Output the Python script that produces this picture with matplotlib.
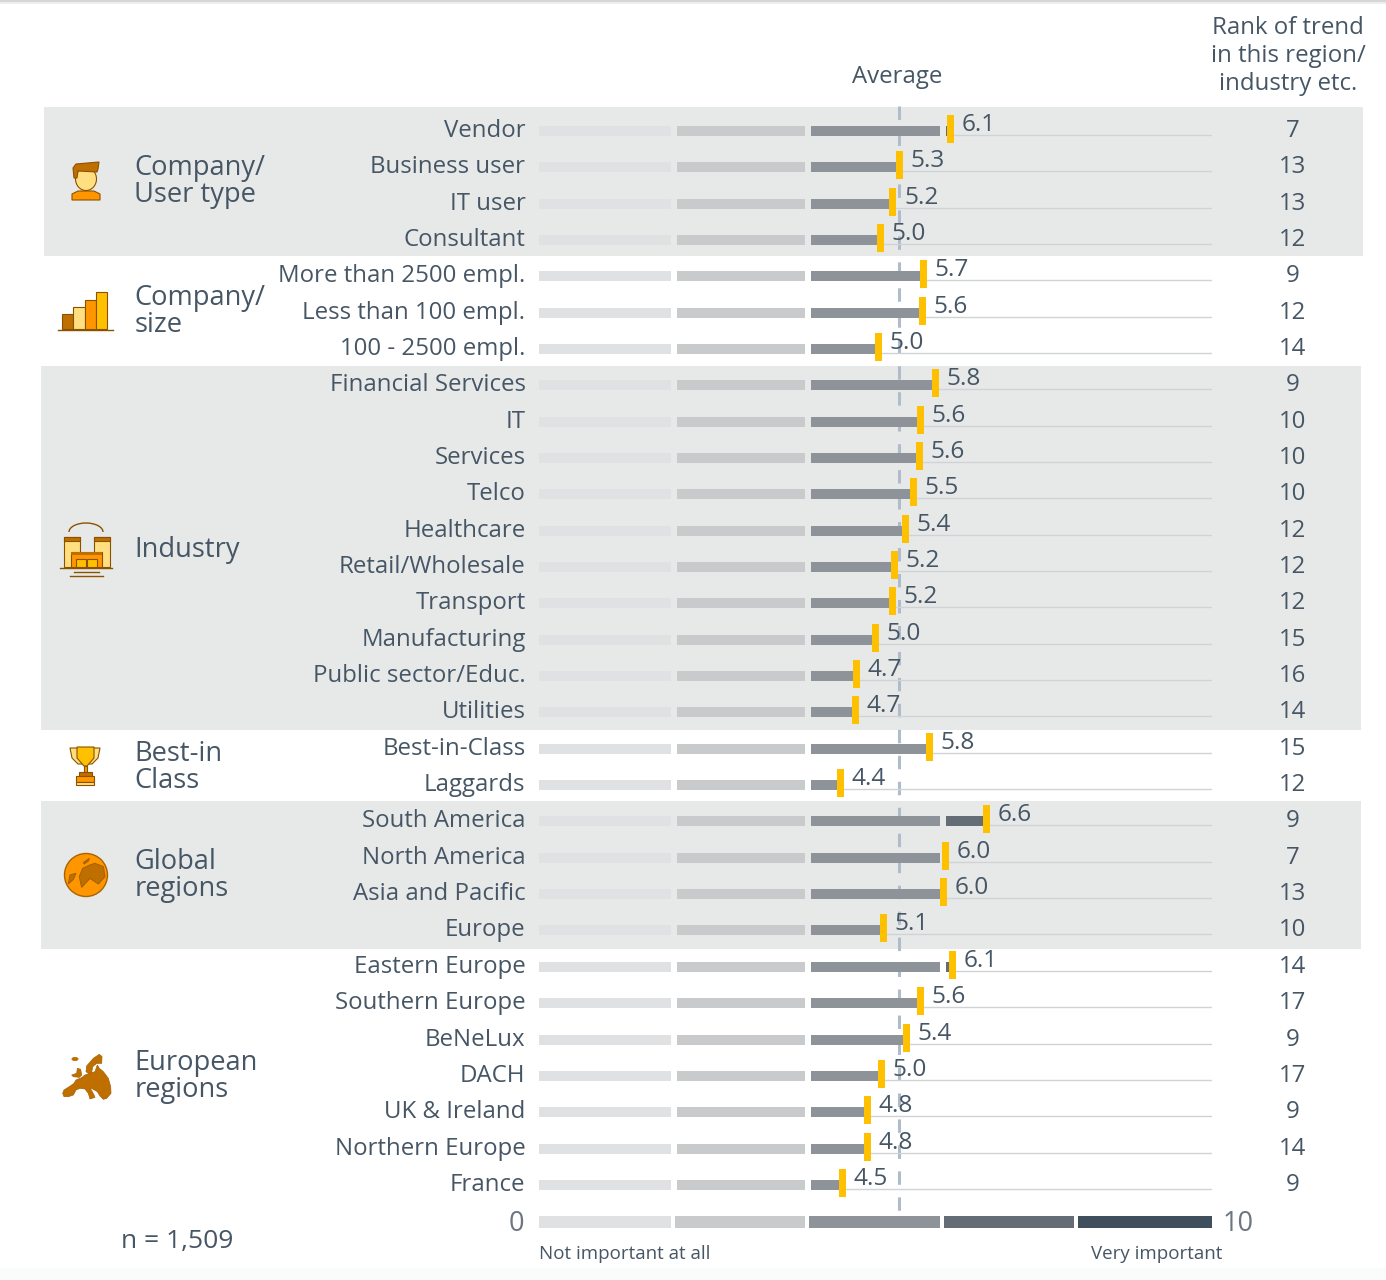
"""Importance of a trend by company type, size, industry and region."""

import matplotlib
matplotlib.use("Agg")
import matplotlib.pyplot as plt
from matplotlib.patches import Ellipse, Polygon, Rectangle, Arc

# Data
row_labels = [
    "Vendor", "Business user", "IT user", "Consultant",
    "More than 2500 empl.", "Less than 100 empl.", "100 - 2500 empl.",
    "Financial Services", "IT", "Services", "Telco", "Healthcare",
    "Retail/Wholesale", "Transport", "Manufacturing", "Public sector/Educ.",
    "Utilities", "Best-in-Class", "Laggards",
    "South America", "North America", "Asia and Pacific", "Europe",
    "Eastern Europe", "Southern Europe", "BeNeLux", "DACH", "UK & Ireland",
    "Northern Europe", "France",
]
# marker positions carry more precision than the printed one-decimal labels
values = [
    6.11, 5.35, 5.26, 5.07, 5.71, 5.70, 5.04,
    5.89, 5.67, 5.65, 5.56, 5.44, 5.28, 5.25, 5.00, 4.72, 4.70,
    5.80, 4.48, 6.65, 6.04, 6.01, 5.12,
    6.14, 5.67, 5.46, 5.09, 4.88, 4.88, 4.51,
]
value_labels = [
    "6.1", "5.3", "5.2", "5.0", "5.7", "5.6", "5.0",
    "5.8", "5.6", "5.6", "5.5", "5.4", "5.2", "5.2", "5.0", "4.7", "4.7",
    "5.8", "4.4", "6.6", "6.0", "6.0", "5.1",
    "6.1", "5.6", "5.4", "5.0", "4.8", "4.8", "4.5",
]
ranks = [
    7, 13, 13, 12, 9, 12, 14,
    9, 10, 10, 10, 12, 12, 12, 15, 16, 14,
    15, 12, 9, 7, 13, 10,
    14, 17, 9, 17, 9, 14, 9,
]
average = 5.35
scale_colors = ["#e0e1e3", "#c8cacc", "#8e9399", "#646d76", "#404f5c"]
# (label, text centre y in px)
group_labels = [
    ("Company/\nUser type", 181.5), ("Company/\nsize", 311.5), ("Industry", 550),
    ("Best-in\nClass", 767.5), ("Global\nregions", 875.5), ("European\nregions", 1076.5),
]

TEXT = "#465665"
BROWN = "#BF6F00"
ORANGE = "#FF9600"
YELLOW = "#FFC000"
LIGHT = "#FFDF80"
EDGE = "#8A5200"
PX = 0.72  # points per pixel at dpi 100

plt.rcParams["font.family"] = ["Open Sans", "DejaVu Sans"]

fig = plt.figure(figsize=(13.86, 12.8), dpi=100)

# Page axes in pixels, for panels, icons and free text
page = fig.add_axes([0, 0, 1, 1])
page.set_xlim(0, 1386)
page.set_ylim(1280, 0)
page.axis("off")

# Chart axes: x is the 0-10 score, y is the row number
row_top, row_step = 131, 36.34
chart = fig.add_axes([539 / 1386, 1 - 1240 / 1280, 673 / 1386, 1140 / 1280], zorder=2)
chart.set_xlim(0, 10)
chart.set_ylim((1240 - row_top) / row_step, (100 - row_top) / row_step)
chart.axis("off")

# Page shading and panels
page.add_patch(Rectangle((0, 0), 1386, 1.5, color="#d4d6d8", lw=0))
page.add_patch(Rectangle((0, 1.5), 1386, 2, color="#eceded", lw=0))
page.add_patch(Rectangle((0, 1268), 1386, 12, color="#fafbfb", lw=0))
for x0, y0, x1, y1 in [(44, 107, 1363, 256), (41, 366, 1361, 730), (41, 801, 1361, 949)]:
    page.add_patch(Rectangle((x0, y0), x1 - x0, y1 - y0, color="#e7e9e9", lw=0))

# Average line
chart.plot([average, average], [-0.69, 29.72], color="#b0bccb", lw=2.2,
           dashes=(4.4, 4.1), zorder=1)
page.text(897, 77, "Average", ha="center", va="center", fontsize=17.3, color=TEXT)
page.text(1288, 56, "Rank of trend\nin this region/\nindustry etc.", ha="center",
          va="center", fontsize=17.3, color=TEXT, linespacing=1.24)

# Rows
segments = [(0, 1.96), (2.05, 3.95), (4.04, 5.96), (6.05, 7.98), (8.04, 10)]
px_h = 1 / row_step
for row, val in enumerate(values):
    for (start, end), color in zip(segments, scale_colors):
        if val > start:
            chart.barh(row, min(val, end) - start, left=start, height=10 * px_h,
                       color=color, lw=0, zorder=2)
    chart.plot([val, 10], [row + 4 * px_h] * 2, color="#cfd3d6", lw=1, zorder=1.5)
    chart.barh(row - 2 * px_h, 7 / 67.3, left=val - 3.5 / 67.3, height=28 * px_h,
               color=YELLOW, lw=0, zorder=3)
    chart.annotate(row_labels[row], (0, row), xytext=(-13.5 * PX, 0),
                   textcoords="offset points", ha="right", va="center",
                   fontsize=17.3, color=TEXT)
    chart.annotate(value_labels[row], (val, row - 6 * px_h), xytext=(11 * PX, 0),
                   textcoords="offset points", ha="left", va="center",
                   fontsize=17.6, color=TEXT, zorder=4)
    chart.annotate(str(ranks[row]), (10, row), xytext=(80.5 * PX, 0),
                   textcoords="offset points", ha="center", va="center",
                   fontsize=17.3, color=TEXT)

# Scale bar
scale_row = (1222 - row_top) / row_step
scale_edges = [(0, 1.96), (2.02, 3.95), (4.01, 5.96), (6.02, 7.95), (8.01, 10)]
for (start, end), color in zip(scale_edges, scale_colors):
    chart.barh(scale_row, end - start, left=start, height=12 * px_h, color=color, lw=0)
chart.annotate("0", (0, scale_row), xytext=(-15 * PX, -1.5), textcoords="offset points",
               ha="right", va="center", fontsize=19.5, color="#6d7680")
chart.annotate("10", (10, scale_row), xytext=(11 * PX, -1.5), textcoords="offset points",
               ha="left", va="center", fontsize=19.5, color="#6d7680")
page.text(539, 1254, "Not important at all", ha="left", va="center", fontsize=13.5, color=TEXT)
page.text(1222, 1254, "Very important", ha="right", va="center", fontsize=13.5, color=TEXT)
page.text(121, 1241.5, "n = 1,509", ha="left", va="center", fontsize=19, color=TEXT)

# Group names
for label, y in group_labels:
    page.text(134.5, y, label, ha="left", va="center", fontsize=19.6, color=TEXT, linespacing=0.94)


def box(x0, y0, x1, y1, color, edge=EDGE, lw=0.8):
    page.add_patch(Rectangle((x0, y0), x1 - x0, y1 - y0, facecolor=color, edgecolor=edge, lw=lw))


def poly(points, color, edge=EDGE, lw=0.8):
    page.add_patch(Polygon(points, closed=True, facecolor=color, edgecolor=edge, lw=lw))


def from_zoom(points, x0, y0):
    # outline traced on a 3x crop whose corner is (x0, y0)
    return [(x0 + x / 3, y0 + y / 3) for x, y in points]


# Icon: person
poly([(72, 200), (72, 194), (78, 191), (94, 191), (100, 194), (100, 200)], ORANGE)
page.add_patch(Ellipse((86, 179), 21, 23, facecolor=LIGHT, edgecolor=EDGE, lw=0.8))
poly([(74, 178), (73, 168), (76, 164), (99, 162), (98, 169), (97, 172), (78, 171), (77, 178)], BROWN)

# Icon: size bars
box(62, 314, 73, 329, BROWN)
box(73, 307, 85, 329, LIGHT)
box(85, 300, 96, 329, ORANGE)
box(96, 292, 107, 329, YELLOW)
page.plot([58, 113], [329.5, 329.5], color=EDGE, lw=1)

# Icon: buildings
page.add_patch(Arc((86, 532), 34, 18, theta1=180, theta2=360, color=EDGE, lw=1))
box(64, 537, 80, 567, LIGHT)
box(94, 537, 110, 567, LIGHT)
box(64, 537, 80, 541, BROWN)
box(94, 537, 110, 541, BROWN)
box(71, 552, 102, 567, ORANGE)
box(71, 552, 102, 555, BROWN, lw=0)
box(76, 559, 86, 567, YELLOW)
box(87, 559, 97, 567, YELLOW)
page.plot([60, 112], [567.5, 567.5], color=EDGE, lw=1)
page.plot([74, 99], [571.5, 571.5], color=EDGE, lw=1)
page.plot([70, 103], [575.5, 575.5], color=EDGE, lw=1)

# Icon: trophy
poly([(70, 748), (100, 748), (98, 758), (92, 764), (78, 764), (72, 758)], LIGHT)
poly([(77, 747), (94, 747), (94, 758), (87, 766), (84, 766), (77, 758)], YELLOW)
box(84, 766, 87, 772, ORANGE)
box(79, 772, 92, 776, BROWN)
box(76, 776, 94, 782, ORANGE)
box(76, 782, 94, 785, LIGHT)

# Icon: globe
page.add_patch(Ellipse((86, 875), 43, 43, facecolor=ORANGE, edgecolor="#A86200", lw=1))
land = [
    [(118, 440), (128, 415), (150, 405), (165, 400), (190, 410), (195, 440), (175, 462), (150, 445), (125, 472)],
    [(85, 462), (90, 435), (108, 430), (100, 448)],
    [(130, 398), (148, 385), (145, 393), (133, 402)],
]
for outline in land:
    poly(from_zoom(outline, 40, 730), BROWN, "#A86200")

# Icon: Europe
europe = [
    [(68, 160), (72, 150), (88, 140), (102, 130), (108, 120), (125, 113), (135, 105), (150, 100),
     (165, 95), (172, 75), (178, 85), (190, 95), (205, 115), (212, 140), (213, 160), (200, 175),
     (190, 178), (180, 168), (172, 155), (160, 148), (150, 143), (162, 165), (165, 172), (150, 177),
     (145, 160), (135, 147), (120, 145), (108, 150), (100, 165), (85, 170), (72, 170)],
    [(95, 105), (110, 100), (112, 85), (122, 88), (125, 105), (118, 112), (100, 110)],
    [(138, 95), (140, 78), (160, 55), (178, 43), (186, 50), (185, 70), (170, 70), (158, 80), (155, 98), (145, 100)],
]
for outline in europe:
    poly(from_zoom(outline, 40, 1040), BROWN, "#A86200", 0.5)
page.add_patch(Ellipse((75, 1059), 7, 4, facecolor=BROWN, edgecolor="none"))

fig.savefig("out.png", dpi=100)
